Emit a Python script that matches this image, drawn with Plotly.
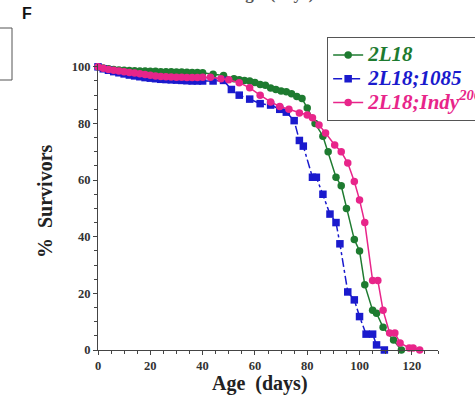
import plotly.graph_objects as go

# ---- data ----
g_days = [0, 2, 4, 6, 8, 10, 12, 14, 16, 18, 20, 22, 24, 26, 28, 30, 32, 34, 36, 38, 40, 44, 48, 52, 54, 56, 58,
          60, 62, 64, 66, 68, 70, 72, 74, 76, 78, 80, 83, 86, 88, 91, 93, 95, 98, 100, 102, 105, 106.5, 109, 113, 116]
g_vals = [100, 99.6, 99.3, 99.1, 98.9, 98.8, 98.7, 98.6, 98.5, 98.5, 98.4, 98.4, 98.3, 98.3, 98.3, 98.2, 98.2, 98.1,
          98.0, 98.0, 97.9, 97.4, 96.9, 95.8, 95.4, 95.2, 95.0, 94.5, 93.8, 93.5, 92.5, 92.0, 91.5, 91.2, 90.5,
          89.5, 88.8, 85.5, 80, 75.5, 70, 61, 58, 50, 39, 35, 23, 14, 13, 8, 3.5, 0]

b_days = [0, 2, 4, 6, 8, 10, 12, 14, 16, 18, 20, 22, 24, 26, 28, 30, 32, 34, 36, 38, 40, 44, 48, 51, 54, 58,
          62, 66, 69.5, 72, 75, 77, 78.5, 82, 83.5, 86, 88.7, 91, 92.5, 95.5, 98, 100, 102.5, 105, 106.5, 109.5]
b_vals = [100, 99.3, 98.8, 98.3, 97.9, 97.5, 97.1, 96.8, 96.5, 96.2, 96.0, 95.8, 95.6, 95.5, 95.4, 95.3, 95.2,
          95.1, 95.0, 95.0, 95.0, 95.0, 95.2, 92, 90, 88.6, 87, 86.5, 85, 84, 81, 74, 72, 61, 61, 55, 48, 45,
          37.5, 20.5, 17.7, 11.8, 5.6, 5.6, 1.8, 0]

p_days = [0, 2, 4, 6, 8, 10, 12, 14, 16, 18, 20, 22, 24, 26, 28, 30, 32, 34, 36, 38, 40, 43, 47, 50, 54, 58,
          62, 66, 69.5, 73, 77, 80, 82, 84.5, 87, 90.5, 93, 95.5, 98, 100, 102, 105, 107, 109, 111.5, 113.5,
          115.5, 119, 120.5, 123]
p_vals = [100, 99.5, 99.1, 98.8, 98.5, 98.3, 98.0, 97.8, 97.6, 97.3, 97.0, 96.8, 96.6, 96.5, 96.4, 96.3, 96.3,
          96.2, 96.2, 96.2, 96.3, 96.3, 95.8, 95.4, 94.4, 92.6, 90, 87.6, 86, 85, 83.7, 83, 82, 79.5, 76.6,
          72.4, 70, 66, 59.5, 53, 45, 24.5, 24.5, 14, 6, 6, 2.5, 0.7, 0.7, 0]

names = ["2L18", "2L18;1085", "2L18;Indy<sup>206</sup>"]
colors = ["#1e7b30", "#1a1acd", "#e8258a"]

SERIF = "Liberation Serif, Times New Roman, serif"


def legend_name(txt, col):
    return f'<span style="color:{col};font-size:21px"><b><i>{txt}</i></b></span>'


fig = go.Figure()
fig.add_trace(go.Scatter(
    x=g_days, y=g_vals, mode="lines+markers", cliponaxis=False,
    name=legend_name(names[0], colors[0]),
    line=dict(color=colors[0], width=1.5),
    marker=dict(symbol="circle", size=7.5, color=colors[0])))
fig.add_trace(go.Scatter(
    x=b_days, y=b_vals, mode="lines+markers", cliponaxis=False,
    name=legend_name(names[1], colors[1]),
    line=dict(color=colors[1], width=1.5, dash="dashdot"),
    marker=dict(symbol="square", size=7.5, color=colors[1])))
fig.add_trace(go.Scatter(
    x=p_days, y=p_vals, mode="lines+markers", cliponaxis=False,
    name=legend_name(names[2], colors[2]),
    line=dict(color=colors[2], width=1.5),
    marker=dict(symbol="circle", size=7.5, color=colors[2])))

axis_common = dict(
    showgrid=False, zeroline=False, showline=True, linecolor="#444", linewidth=1.2,
    ticks="outside", ticklen=4, tickwidth=1.2, tickcolor="#444",
    tickfont=dict(family=SERIF, size=12.5, color="#333", weight="bold"),
    minor=dict(ticks="outside", ticklen=2.5, tickwidth=1, tickcolor="#444", dtick=5),
    dtick=20, tick0=0,
)

fig.update_layout(
    width=475, height=397,
    margin=dict(l=98, r=37, t=64, b=47, autoexpand=False),
    paper_bgcolor="white", plot_bgcolor="white",
    xaxis=dict(range=[0, 130], **axis_common),
    yaxis=dict(range=[0, 101], **axis_common),
    legend=dict(x=0.674, y=1.094, xanchor="left", yanchor="top",
                bordercolor="#555", borderwidth=1, bgcolor="white",
                font=dict(family=SERIF, size=16), tracegroupgap=0, itemwidth=30),
    showlegend=True,
)

# axis titles as annotations for exact placement
fig.add_annotation(text="<b>Age  (days)</b>", xref="paper", yref="paper",
                   x=(260 - 98) / 340, y=(350 - 383) / 286, showarrow=False,
                   font=dict(family=SERIF, size=20, color="#222"), xanchor="center", yanchor="middle")
fig.add_annotation(text="<b>%  Survivors</b>", xref="paper", yref="paper",
                   x=(45 - 98) / 340, y=(350 - 201) / 286, showarrow=False, textangle=-90,
                   font=dict(family=SERIF, size=20, color="#222"), xanchor="center", yanchor="middle")

fig.add_annotation(text="<b>F</b>", xref="paper", yref="paper", x=(27 - 98) / 340, y=(350 - 13) / 286,
                   showarrow=False, font=dict(family="Liberation Sans, Arial, sans-serif", size=16, color="#111"),
                   xanchor="center", yanchor="middle")
fig.add_annotation(text="<b>Age  (days)</b>", xref="paper", yref="paper", x=(273 - 98) / 340, y=(350 - 5) / 286,
                   showarrow=False, font=dict(family=SERIF, size=17, color="#555"),
                   xanchor="center", yanchor="bottom")
fig.add_shape(type="rect", xref="paper", yref="paper",
              x0=(-20 - 98) / 340, x1=(12 - 98) / 340, y0=(350 - 80) / 286, y1=(350 - 28) / 286,
              line=dict(color="#555", width=1), fillcolor="rgba(0,0,0,0)")

fig.write_html("out.html")
